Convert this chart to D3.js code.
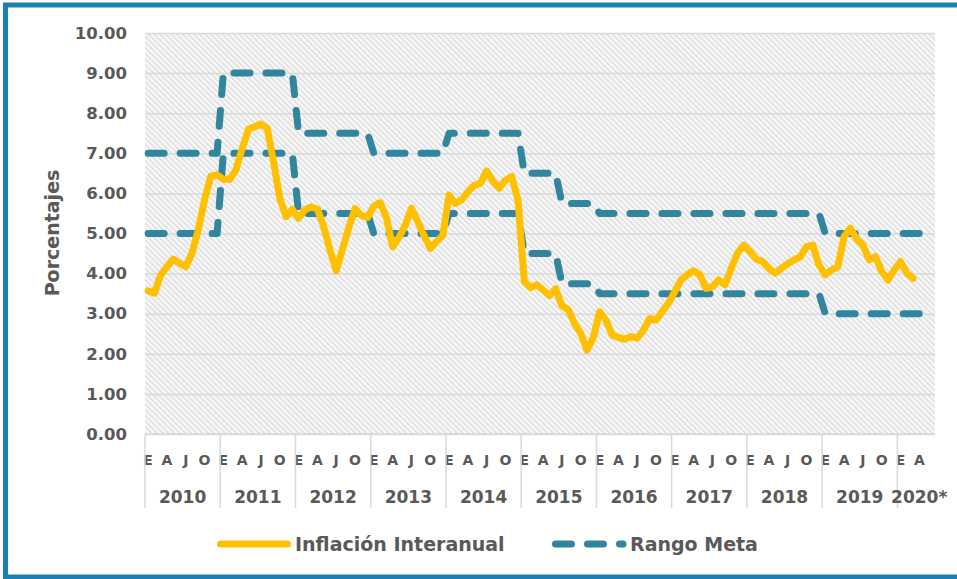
<!DOCTYPE html>
<html>
<head>
<meta charset="utf-8">
<script src="https://cdn.jsdelivr.net/npm/d3@7"></script>
<style>
  body { margin: 0; background: #fff; }
  svg text { font-family: "DejaVu Sans", Verdana, sans-serif; font-weight: bold; fill: #595959; }
</style>
</head>
<body>
<div id="vis"></div>
<script>
// inflacion interanual, enero 2010 - marzo 2020
const inflacion = [
  3.57, 3.51, 3.97, 4.17, 4.36, 4.26, 4.17, 4.51, 5.09, 5.84, 6.43, 6.46, // 2010
  6.35, 6.35, 6.58, 7.12, 7.60, 7.66, 7.73, 7.62, 6.79, 5.88, 5.42, 5.60, // 2011
  5.38, 5.59, 5.66, 5.61, 5.17, 4.59, 4.07, 4.60, 5.15, 5.62, 5.45, 5.40, // 2012
  5.68, 5.77, 5.40, 4.67, 4.90, 5.20, 5.63, 5.30, 4.95, 4.63, 4.80, 4.95, // 2013
  5.96, 5.75, 5.84, 6.04, 6.20, 6.25, 6.56, 6.30, 6.13, 6.33, 6.42, 5.82, // 2014
  3.80, 3.65, 3.72, 3.59, 3.45, 3.62, 3.20, 3.10, 2.76, 2.51, 2.09, 2.40, // 2015
  3.05, 2.84, 2.47, 2.41, 2.36, 2.43, 2.39, 2.59, 2.88, 2.84, 3.05, 3.26, // 2016
  3.55, 3.84, 3.97, 4.07, 3.97, 3.63, 3.67, 3.84, 3.72, 4.13, 4.51, 4.71, // 2017
  4.55, 4.36, 4.30, 4.13, 4.01, 4.13, 4.24, 4.34, 4.41, 4.67, 4.71, 4.21, // 2018
  3.97, 4.09, 4.17, 4.92, 5.13, 4.86, 4.71, 4.34, 4.42, 4.05, 3.84, 4.09, // 2019
  4.30, 4.01, 3.88                                                         // 2020
];

// rango meta, limite superior e inferior, enero 2010 - abril 2020
const metaSup = [
  7, 7, 7, 7, 7, 7, 7, 7, 7, 7, 7, 7,
  9, 9, 9, 9, 9, 9, 9, 9, 9, 9, 9, 9,
  7.5, 7.5, 7.5, 7.5, 7.5, 7.5, 7.5, 7.5, 7.5, 7.5, 7.5, 7.5,
  7, 7, 7, 7, 7, 7, 7, 7, 7, 7, 7, 7,
  7.5, 7.5, 7.5, 7.5, 7.5, 7.5, 7.5, 7.5, 7.5, 7.5, 7.5, 7.5,
  6.5, 6.5, 6.5, 6.5, 6.5, 6.5, 5.75, 5.75, 5.75, 5.75, 5.75, 5.75,
  5.5, 5.5, 5.5, 5.5, 5.5, 5.5, 5.5, 5.5, 5.5, 5.5, 5.5, 5.5,
  5.5, 5.5, 5.5, 5.5, 5.5, 5.5, 5.5, 5.5, 5.5, 5.5, 5.5, 5.5,
  5.5, 5.5, 5.5, 5.5, 5.5, 5.5, 5.5, 5.5, 5.5, 5.5, 5.5, 5.5,
  5, 5, 5, 5, 5, 5, 5, 5, 5, 5, 5, 5,
  5, 5, 5, 5
];
const metaInf = [
  5, 5, 5, 5, 5, 5, 5, 5, 5, 5, 5, 5,
  7, 7, 7, 7, 7, 7, 7, 7, 7, 7, 7, 7,
  5.5, 5.5, 5.5, 5.5, 5.5, 5.5, 5.5, 5.5, 5.5, 5.5, 5.5, 5.5,
  5, 5, 5, 5, 5, 5, 5, 5, 5, 5, 5, 5,
  5.5, 5.5, 5.5, 5.5, 5.5, 5.5, 5.5, 5.5, 5.5, 5.5, 5.5, 5.5,
  4.5, 4.5, 4.5, 4.5, 4.5, 4.5, 3.75, 3.75, 3.75, 3.75, 3.75, 3.75,
  3.5, 3.5, 3.5, 3.5, 3.5, 3.5, 3.5, 3.5, 3.5, 3.5, 3.5, 3.5,
  3.5, 3.5, 3.5, 3.5, 3.5, 3.5, 3.5, 3.5, 3.5, 3.5, 3.5, 3.5,
  3.5, 3.5, 3.5, 3.5, 3.5, 3.5, 3.5, 3.5, 3.5, 3.5, 3.5, 3.5,
  3, 3, 3, 3, 3, 3, 3, 3, 3, 3, 3, 3,
  3, 3, 3, 3
];

const years = ["2010", "2011", "2012", "2013", "2014", "2015", "2016", "2017", "2018", "2019", "2020*"];
const monthsInYear = [12, 12, 12, 12, 12, 12, 12, 12, 12, 12, 6];
const monthLetters = ["E", "F", "M", "A", "M", "J", "J", "A", "S", "O", "N", "D"];
const yTicks = [0, 1, 2, 3, 4, 5, 6, 7, 8, 9, 10];

const CONFIG = {
    w: 957, h: 579,
    plot: { left: 145, right: 935, top: 33, bottom: 434 },
    orange: "#FFC000",
    teal: "#31859C",
    frame: "#1C80B4",
    grid: "#D9D9D9"
};

// categories: one per month
const categories = [];
years.forEach((y, yi) => {
    for (let m = 0; m < monthsInYear[yi]; m++) categories.push({ year: y, m: m });
});

const svg = d3.select("#vis").append("svg")
    .attr("width", CONFIG.w)
    .attr("height", CONFIG.h);

const defs = svg.append("defs");
const pat = defs.append("pattern")
    .attr("id", "hatch")
    .attr("patternUnits", "userSpaceOnUse")
    .attr("width", 4).attr("height", 4)
    .attr("patternTransform", "rotate(-45)");
pat.append("rect").attr("width", 4).attr("height", 4).attr("fill", "#F9F9F9");
pat.append("rect").attr("width", 1.6).attr("height", 4).attr("fill", "#DDDDDD");

const P = CONFIG.plot;
const x = d3.scaleBand()
    .domain(d3.range(categories.length))
    .range([P.left, P.right]);
const xc = i => x(i) + x.bandwidth() / 2;

const y = d3.scaleLinear()
    .domain([0, 10])
    .range([P.bottom, P.top]);

// plot background
svg.append("rect")
    .attr("x", P.left).attr("y", P.top)
    .attr("width", P.right - P.left).attr("height", P.bottom - P.top)
    .attr("fill", "url(#hatch)");

// gridlines
svg.append("g")
    .attr("transform", `translate(${P.left},0)`)
    .call(d3.axisLeft(y).tickValues(yTicks).tickSize(-(P.right - P.left)).tickFormat(""))
    .call(g => g.select(".domain").remove())
    .call(g => g.selectAll("line").attr("stroke", CONFIG.grid).attr("stroke-width", 1.5));

// y labels
svg.append("g")
    .attr("transform", `translate(${P.left},0)`)
    .call(d3.axisLeft(y).tickValues(yTicks).tickSize(0).tickPadding(18).tickFormat(d3.format(".2f")))
    .call(g => g.select(".domain").remove())
    .call(g => g.selectAll("text").style("font-size", "16.5px").attr("fill", "#595959"));

// x axis line
svg.append("line")
    .attr("x1", P.left).attr("x2", P.right)
    .attr("y1", P.bottom).attr("y2", P.bottom)
    .attr("stroke", CONFIG.grid).attr("stroke-width", 1.5);

// month letters every 3 months
svg.append("g")
    .attr("transform", `translate(0,${P.bottom})`)
    .call(d3.axisBottom(x)
        .tickValues(d3.range(categories.length).filter(i => categories[i].m % 3 === 0))
        .tickSize(0).tickPadding(21)
        .tickFormat(i => monthLetters[categories[i].m]))
    .call(g => g.select(".domain").remove())
    .call(g => g.selectAll("text").style("font-size", "14px").attr("fill", "#595959"));

// year groups
let start = 0;
years.forEach((yr, yi) => {
    const first = start, last = start + monthsInYear[yi] - 1;
    svg.append("line")
        .attr("x1", x(first)).attr("x2", x(first))
        .attr("y1", P.bottom).attr("y2", 508)
        .attr("stroke", CONFIG.grid).attr("stroke-width", 1.5);
    svg.append("text")
        .attr("x", (x(first) + x(last) + x.bandwidth()) / 2 + (yi === years.length - 1 ? 3 : 0))
        .attr("y", 503)
        .attr("text-anchor", "middle")
        .style("font-size", "17px")
        .text(yr);
    start = last + 1;
});

// series
const line = d3.line()
    .x((d, i) => xc(i))
    .y(d => y(d));

[metaSup, metaInf].forEach(s => {
    svg.append("path")
        .datum(s)
        .attr("d", line)
        .attr("fill", "none")
        .attr("stroke", CONFIG.teal)
        .attr("stroke-width", 7)
        .attr("stroke-dasharray", "16,16")
        .attr("stroke-linecap", "round")
        .attr("stroke-linejoin", "round");
});

svg.append("path")
    .datum(inflacion)
    .attr("d", line)
    .attr("fill", "none")
    .attr("stroke", CONFIG.orange)
    .attr("stroke-width", 7)
    .attr("stroke-linecap", "round")
    .attr("stroke-linejoin", "round");

// y title
svg.append("text")
    .attr("transform", "translate(59,233) rotate(-90)")
    .attr("text-anchor", "middle")
    .style("font-size", "19px")
    .text("Porcentajes");

// legend
const leg = svg.append("g").attr("transform", "translate(0,544)");
leg.append("line")
    .attr("x1", 220.5).attr("x2", 287.5)
    .attr("stroke", CONFIG.orange).attr("stroke-width", 7).attr("stroke-linecap", "round");
leg.append("text").attr("x", 295).attr("y", 6.5).style("font-size", "19px").text("Inflación Interanual");
leg.append("line")
    .attr("x1", 555.5).attr("x2", 623)
    .attr("stroke", CONFIG.teal).attr("stroke-width", 7).attr("stroke-linecap", "round")
    .attr("stroke-dasharray", "16,16");
leg.append("text").attr("x", 630).attr("y", 6.5).style("font-size", "19px").text("Rango Meta");

// frame
svg.append("rect")
    .attr("x", 5.5).attr("y", 5)
    .attr("width", 970).attr("height", 572)
    .attr("fill", "none")
    .attr("stroke", CONFIG.frame)
    .attr("stroke-width", 5);
</script>
</body>
</html>
